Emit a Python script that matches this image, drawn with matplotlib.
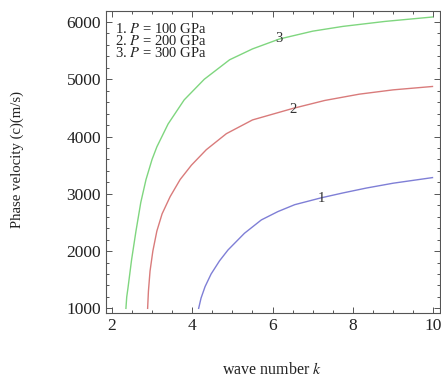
import matplotlib
matplotlib.use("Agg")
import matplotlib.pyplot as plt
from matplotlib.ticker import MultipleLocator

plt.rcParams['font.family'] = ['Liberation Serif', 'DejaVu Serif']
plt.rcParams['mathtext.fontset'] = 'stix'

# curve values: wave number k -> phase velocity c (m/s)
k1 = [4.16, 4.22, 4.32, 4.47, 4.68, 4.89, 5.30, 5.72, 6.13, 6.55, 7.21, 7.75, 8.33, 9.00, 9.98]
c1 = [1000, 1180, 1380, 1600, 1830, 2019, 2311, 2544, 2689, 2810, 2930, 3015, 3100, 3185, 3283]

k2 = [2.89, 2.91, 2.95, 3.02, 3.12, 3.25, 3.45, 3.70, 3.98, 4.35, 4.85, 5.50, 6.50, 7.30, 8.16, 9.00, 9.98]
c2 = [1000, 1300, 1650, 2000, 2350, 2650, 2950, 3250, 3500, 3770, 4050, 4290, 4490, 4630, 4740, 4815, 4874]

k3 = [2.35, 2.37, 2.40, 2.49, 2.60, 2.72, 2.85, 3.00, 3.12, 3.40, 3.80, 4.30, 4.93, 5.50, 6.17, 7.00, 7.75, 8.80, 9.98]
c3 = [1000, 1200, 1350, 1845, 2350, 2850, 3250, 3600, 3820, 4220, 4640, 5000, 5340, 5530, 5703, 5840, 5923, 6010, 6087]

legend_lines = ["1. $P$ = 100 GPa", "2. $P$ = 200 GPa", "3. $P$ = 300 GPa"]

fig = plt.figure(figsize=(4.41, 3.79), dpi=100)
ax = fig.add_axes([0.240, 0.174, 0.758, 0.797])

ax.plot(k1, c1, color="#7f7fd6", lw=1.0)
ax.plot(k2, c2, color="#d97b7b", lw=1.0)
ax.plot(k3, c3, color="#7fd67f", lw=1.0)

# curve numbers placed on the curves
for x, y, s in [(7.21, 2923, "1"), (6.50, 4470, "2"), (6.17, 5703, "3")]:
    ax.text(x, y, s, fontsize=10.5, ha="center", va="center", color="#333333")

ax.text(0.028, 0.965, "\n".join(legend_lines), transform=ax.transAxes,
        fontsize=10.5, va="top", ha="left", linespacing=0.82, color="#222222")

ax.set_xlim(1.85, 10.17)
ax.set_ylim(918, 6192)
ax.set_xticks([2, 4, 6, 8, 10])
ax.set_yticks([1000, 2000, 3000, 4000, 5000, 6000])
ax.xaxis.set_minor_locator(MultipleLocator(0.5))
ax.yaxis.set_minor_locator(MultipleLocator(200))
ax.tick_params(which="both", direction="in", top=True, right=True, colors="#555555",
               labelcolor="#222222", labelsize=12.5, width=0.7)
ax.tick_params(which="major", length=4)
ax.tick_params(which="minor", length=2)
for sp in ax.spines.values():
    sp.set_color("#555555")
    sp.set_linewidth(0.8)

fig.text(0.617, 0.025, "wave number $k$", fontsize=11.5, ha="center", va="center", color="#222222")
fig.text(0.04, 0.58, "Phase velocity (c)(m/s)", fontsize=10.6, rotation=90,
         ha="center", va="center", color="#222222")

fig.savefig("out.png", dpi=100)
